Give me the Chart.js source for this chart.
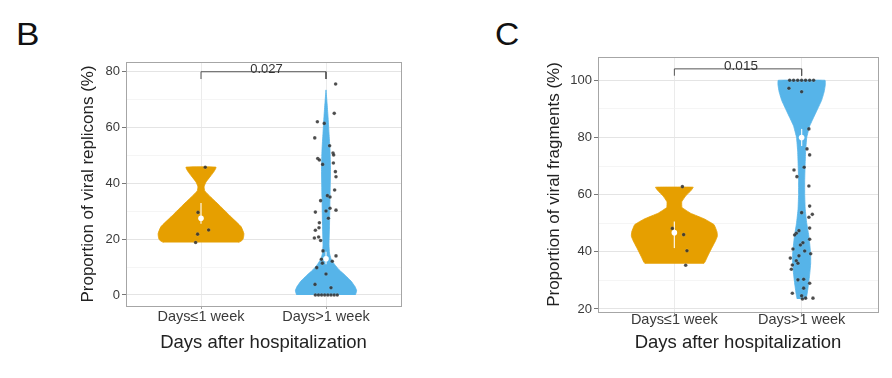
<!DOCTYPE html>
<html>
<head>
<meta charset="utf-8">
<script src="https://cdn.jsdelivr.net/npm/chart.js@4.4.1/dist/chart.umd.min.js"></script>
<style>
  html, body { margin: 0; padding: 0; background: #fff; }
  body { width: 892px; height: 378px; position: relative; overflow: hidden; font-family: "Liberation Sans", Arial, sans-serif; }
  .panel { position: absolute; top: 0; width: 446px; height: 378px; }
  .letter { position: absolute; font-size: 32px; color: #111; line-height: 1; }
</style>
</head>
<body>
<div class="letter" style="left:16px; top:18px; transform: scaleX(1.1); transform-origin: left top;">B</div>
<div class="letter" style="left:495px; top:18px; transform: scaleX(1.05); transform-origin: left top;">C</div>
<div class="panel" style="left:0px;"><canvas id="chartB" width="446" height="378"></canvas></div>
<div class="panel" style="left:446px;"><canvas id="chartC" width="446" height="378"></canvas></div>
<script>
// ---------- categories & axis text ----------
const categories = ["Days\u22641 week", "Days>1 week"];
const xTitle = "Days after hospitalization";
const yTitleB = "Proportion of viral replicons (%)";
const yTitleC = "Proportion of viral fragments (%)";
const yTicksB = [0, 10, 20, 30, 40, 50, 60, 70, 80];
const yTicksC = [20, 30, 40, 50, 60, 70, 80, 90, 100];

// ---------- Panel B: viral replicons ----------
// group 1 (Days<=1 week) observations and their jitter (category units)
const valuesB1 = [45.8, 29.6, 23.3, 21.8, 18.8];
const jitterB1 = [0.034, -0.024, 0.061, -0.027, -0.043];
// group 2 (Days>1 week)
const valuesB2 = [75.6, 65.1, 62.1, 61.5, 56.3, 53.5, 48.9, 48.4, 50.9, 50.2, 46.8, 47.3, 44.2, 42.4, 37.6,
  35.6, 35.1, 33.8, 31.1, 30.4, 30.1, 29.7, 27.5, 25.9, 24.1, 23.2, 20.8, 20.4, 19.5, 15.8, 14.0, 12.8,
  11.4, 12.1, 9.8, 7.5, 3.8, 2.6, 0, 0, 0, 0, 0, 0, 0, 0];
const jitterB2 = [0.077, 0.066, -0.069, -0.014, -0.09, 0.029, -0.066, -0.053, 0.056, 0.061, -0.027, 0.059, 0.075, 0.08, 0.069,
  0.011, 0.032, -0.043, 0.032, 0.08, 0, -0.085, 0.019, -0.053, -0.056, -0.085, -0.059, -0.093, -0.043, -0.024, 0.08, -0.037,
  -0.029, 0.05, -0.074, 0, -0.088, 0.04, -0.085, -0.06, -0.035, -0.01, 0.015, 0.04, 0.065, 0.09];
// violin density outlines: level -> half-width (category units)
const violinYB1 = [18.8, 19.4, 20.2, 22.0, 24.5, 28.0, 32.0, 35.0, 37.3, 38.8, 40.5, 42.5, 44.3, 45.8];
const violinWB1 = [0.30, 0.325, 0.338, 0.343, 0.32, 0.24, 0.15, 0.08, 0.03, 0.025, 0.04, 0.075, 0.105, 0.12];
const violinYB2 = [0, 1.5, 3.0, 5.0, 7.0, 9.0, 11.0, 13.0, 15.0, 18.0, 25.0, 35.0, 45.0, 52.0, 58.0, 64.0, 69.0, 73.5];
const violinWB2 = [0.235, 0.245, 0.232, 0.2, 0.155, 0.105, 0.068, 0.04, 0.028, 0.024, 0.028, 0.032, 0.036, 0.032, 0.024, 0.016, 0.008, 0.0];
// mean marker and interval
const meanB = [27.5, 13.0];
const intervalB = [[25.5, 33.0], [11.0, 15.5]];
// significance bracket
const bracketB = [80, 77.4];
const pLabelB = "0.027";

// ---------- Panel C: viral fragments ----------
const valuesC1 = [62.8, 48.2, 46.0, 40.4, 35.3];
const jitterC1 = [0.063, -0.016, 0.073, 0.099, 0.089];
const valuesC2 = [100, 100, 100, 100, 100, 100, 100, 97.2, 96.0, 83.0, 76.0, 73.9, 69.6, 68.6, 66.3, 63.0, 56.0,
  53.7, 53.1, 52.1, 48.3, 47.4, 46.5, 45.9, 44.4, 43.2, 42.4, 41.0, 40.3, 39.3, 38.6, 37.8, 36.9, 36.0, 35.4,
  33.9, 30.4, 30.2, 29.0, 27.3, 25.5, 24.6, 23.8, 23.8, 23.5];
const jitterC2 = [-0.094, -0.063, -0.031, 0, 0.031, 0.063, 0.094, -0.1, 0, 0.057, 0.042, 0.063, 0.02, -0.06, -0.037, 0.057, 0.063,
  0, 0.084, 0.057, 0.063, -0.021, -0.042, -0.055, 0.063, 0.01, -0.01, -0.068, 0.024, 0.071, -0.021, -0.089, -0.042, -0.029, -0.073,
  -0.081, 0.016, -0.029, 0.063, 0.016, -0.073, 0, 0.031, 0.089, 0.006];
const violinYC1 = [35.8, 36.4, 38.5, 41.0, 44.0, 45.5, 47.0, 49.5, 51.5, 53.5, 55.5, 57.5, 59.5, 61.5, 62.6];
const violinWC1 = [0.228, 0.24, 0.262, 0.29, 0.325, 0.338, 0.335, 0.312, 0.236, 0.128, 0.06, 0.058, 0.088, 0.132, 0.148];
const violinYC2 = [23.5, 25, 28, 32, 36, 39, 43, 46, 50, 55, 60, 65, 70, 75, 80, 84, 87, 90, 93, 96, 98.5, 100];
const violinWC2 = [0.035, 0.042, 0.052, 0.063, 0.071, 0.071, 0.063, 0.055, 0.04, 0.028, 0.024, 0.024, 0.027, 0.031, 0.04,
  0.063, 0.094, 0.126, 0.157, 0.177, 0.186, 0.184];
const meanC = [46.7, 80.0];
const intervalC = [[41.3, 50.6], [77.0, 83.0]];
const bracketC = [104.0, 101.6];
const pLabelC = "0.015";

// ---------- styling ----------
const FONT = "'Liberation Sans', Arial, sans-serif";
const fillColors = ["#E69F00", "#56B4E9"];

function violinPolygon(center, ys, ws) {
  const left = ys.map((y, i) => ({x: center - ws[i], y: y}));
  const right = ys.map((y, i) => ({x: center + ws[i], y: y})).reverse();
  return left.concat(right);
}
function pointsOf(center, vals, jit) {
  return vals.map((v, i) => ({x: center + jit[i], y: v}));
}

const panelBorder = {
  id: 'panelBorder',
  afterDraw(chart) {
    const a = chart.chartArea, ctx = chart.ctx;
    ctx.save();
    ctx.strokeStyle = '#a6a6a6';
    ctx.lineWidth = 1;
    ctx.strokeRect(Math.round(a.left) + 0.5, Math.round(a.top) + 0.5, Math.round(a.right - a.left), Math.round(a.bottom - a.top));
    ctx.restore();
  }
};
const pLabelPlugin = {
  id: 'pLabel',
  afterDatasetsDraw(chart, args, opts) {
    const ctx = chart.ctx, xs = chart.scales.x, ys = chart.scales.y;
    ctx.save();
    ctx.font = opts.size + 'px ' + FONT;
    ctx.fillStyle = '#333';
    ctx.textAlign = 'center';
    ctx.textBaseline = 'alphabetic';
    ctx.fillText(opts.text, xs.getPixelForValue(1.5) + opts.dx, ys.getPixelForValue(opts.y) + 1);
    ctx.restore();
  }
};

function makeChart(id, cfg) {
  const datasets = [];
  // violins
  [0, 1].forEach(g => {
    datasets.push({
      type: 'scatter', data: violinPolygon(g + 1, cfg.vy[g], cfg.vw[g]),
      showLine: true, fill: 'shape', backgroundColor: fillColors[g], borderColor: fillColors[g],
      borderWidth: 0.8, pointRadius: 0, tension: cfg.tension, order: 10
    });
  });
  // white intervals
  [0, 1].forEach(g => {
    datasets.push({
      type: 'scatter', data: [{x: g + 1, y: cfg.interval[g][0]}, {x: g + 1, y: cfg.interval[g][1]}],
      showLine: true, borderColor: 'rgba(255,255,255,0.85)', borderWidth: 1.3, pointRadius: 0, order: 6
    });
  });
  // jittered points
  [0, 1].forEach(g => {
    datasets.push({
      type: 'scatter', data: pointsOf(g + 1, cfg.vals[g], cfg.jit[g]),
      pointRadius: 1.8, pointBackgroundColor: 'rgba(45,45,45,0.85)', pointBorderColor: 'rgba(255,255,255,0.25)',
      pointBorderWidth: 0.5, order: 3
    });
  });
  // mean markers
  datasets.push({
    type: 'scatter', data: [{x: 1, y: cfg.mean[0]}, {x: 2, y: cfg.mean[1]}],
    pointRadius: 2.8, pointBackgroundColor: '#ffffff', pointBorderColor: '#ffffff', pointBorderWidth: 0, order: 1
  });
  // bracket
  datasets.push({
    type: 'scatter', data: [{x: 1, y: cfg.bracket[1]}, {x: 1, y: cfg.bracket[0]}, {x: 2, y: cfg.bracket[0]}, {x: 2, y: cfg.bracket[1]}],
    showLine: true, borderColor: '#555', borderWidth: 1, pointRadius: 0, order: 2
  });

  return new Chart(document.getElementById(id), {
    type: 'scatter',
    data: {datasets},
    plugins: [panelBorder, pLabelPlugin],
    options: {
      responsive: false, animation: false, events: [],
      layout: {padding: cfg.padding},
      plugins: {
        legend: {display: false}, tooltip: {enabled: false},
        pLabel: {text: cfg.pLabel, y: cfg.bracket[0], dx: cfg.pdx, size: cfg.psize}
      },
      scales: {
        x: {
          type: 'linear', min: 0.4, max: 2.6,
          afterBuildTicks: s => { s.ticks = [{value: 1}, {value: 2}]; },
          afterFit: s => { s.height = cfg.xh; },
          ticks: {callback: v => categories[Math.round(v) - 1], font: {family: FONT, size: 14.5}, color: '#3a3a3a', padding: cfg.xtp, maxRotation: 0, autoSkip: false},
          grid: {color: '#e6e6e6', lineWidth: 0.8, tickLength: 3, tickColor: '#888', drawOnChartArea: true},
          border: {display: false},
          title: {display: true, text: xTitle, font: {family: FONT, size: 18.5}, color: '#222', padding: {top: 0, bottom: cfg.xtb}}
        },
        y: {
          type: 'linear', min: cfg.ymin, max: cfg.ymax,
          afterBuildTicks: s => { s.ticks = cfg.yTicks.map(v => ({value: v})); },
          afterFit: s => { s.width = cfg.yw; },
          ticks: {callback: v => (v % 20 === 0 ? String(v) : ''), font: {family: FONT, size: 13}, color: '#3a3a3a', padding: 2},
          grid: {
            color: c => (c.tick && c.tick.value % 20 === 0 ? '#e4e4e4' : '#f1f1f1'),
            lineWidth: c => (c.tick && c.tick.value % 20 === 0 ? 1 : 0.7),
            tickLength: 4,
            tickColor: c => (c.tick && c.tick.value % 20 === 0 ? '#777' : 'rgba(0,0,0,0)')
          },
          border: {display: false},
          title: {display: true, text: cfg.yTitle, font: {family: FONT, size: 17}, color: '#222', padding: {top: 7.8, bottom: 0}}
        }
      }
    }
  });
}

makeChart('chartB', {
  vy: [violinYB1, violinYB2], vw: [violinWB1, violinWB2],
  vals: [valuesB1, valuesB2], jit: [jitterB1, jitterB2],
  mean: meanB, interval: intervalB, bracket: bracketB, pLabel: pLabelB, pdx: 3, psize: 13,
  yTicks: yTicksB, ymin: -3.95, ymax: 83.5, yTitle: yTitleB, tension: 0.15,
  padding: {left: 70, right: 45, top: 62, bottom: 22}, yw: 56, xh: 50, xtp: -1, xtb: 2
});
makeChart('chartC', {
  vy: [violinYC1, violinYC2], vw: [violinWC1, violinWC2],
  vals: [valuesC1, valuesC2], jit: [jitterC1, jitterC2],
  mean: meanC, interval: intervalC, bracket: bracketC, pLabel: pLabelC, pdx: 3, psize: 13.5,
  yTicks: yTicksC, ymin: 18.95, ymax: 108.15, yTitle: yTitleC, tension: 0.08,
  padding: {left: 90, right: 14, top: 57, bottom: 16}, yw: 62, xh: 50, xtp: -4, xtb: 8
});
</script>
</body>
</html>
